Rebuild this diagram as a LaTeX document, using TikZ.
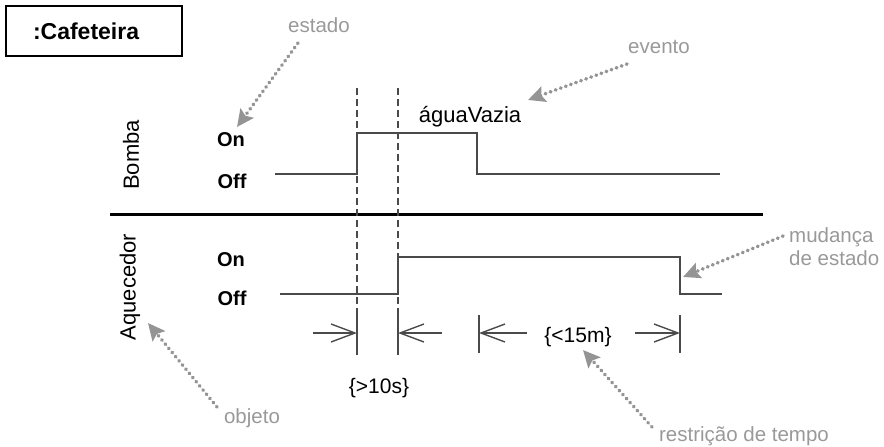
\documentclass[tikz,border=0pt]{standalone}
\usepackage{fontspec}
\setmainfont{Liberation Sans}
\usetikzlibrary{arrows.meta}
\definecolor{notegray}{HTML}{999999}
\definecolor{dotgray}{HTML}{949494}
\definecolor{sig}{HTML}{4A4A4A}
\tikzset{
  note/.style={text=notegray, inner sep=0pt, font=\fontsize{20.5}{23}\selectfont},
  noteline/.style={draw=dotgray, line width=3.6pt, line cap=round, dash pattern=on 0.6pt off 4.8pt,
     -{Stealth[length=17pt,width=16pt,inset=3pt,line cap=butt]}},
  lvl/.style={inner sep=0pt, font=\bfseries\fontsize{20}{23}\selectfont},
  lifeline/.style={inner sep=0pt, rotate=90, font=\fontsize{22}{25}\selectfont},
  signal/.style={draw=sig, line width=1.6pt},
  guide/.style={draw=sig, line width=1.4pt, dash pattern=on 7pt off 4pt},
  tick/.style={draw=sig, line width=1.4pt},
  dim/.style={draw=sig, line width=1.4pt, -{Straight Barb[length=24pt,width=18pt,line width=1.4pt]}},
  cons/.style={inner sep=0pt, font=\fontsize{21}{24}\selectfont}
}
\begin{document}
\begin{tikzpicture}[x=1pt,y=-1pt]
\useasboundingbox (0,0) rectangle (884,447);
% object box
\node[draw, line width=2.5pt, text width=122pt, align=left, inner xsep=27pt,
      minimum height=50pt, inner ysep=0pt,
      font=\bfseries\fontsize{23}{26}\selectfont] (obj) at (94,31) {:Cafeteira};
% lifeline labels
\node[lifeline] (bomba) at (131,155) {Bomba};
\node[lifeline] (aquec) at (130,287) {Aquecedor};
\node[lvl] (bon) at (231,140) {On};
\node[lvl] (boff) at (232,181) {Off};
\node[lvl] (aon) at (231,260) {On};
\node[lvl] (aoff) at (232,298) {Off};
% separator
\coordinate (sepL) at (110,214);
\coordinate (sepR) at (763,214);
\draw[line width=3pt] (sepL) -- (sepR);
% Bomba signal
\coordinate (b0) at (275,174);
\coordinate (b1) at (357,174);
\coordinate (b2) at (357,133);
\coordinate (b3) at (477,133);
\coordinate (b4) at (477,174);
\coordinate (b5) at (720,174);
\draw[signal] (b0) -- (b1) -- (b2) -- (b3) -- (b4) -- (b5);
% Aquecedor signal
\coordinate (a0) at (280,294);
\coordinate (a1) at (398,294);
\coordinate (a2) at (398,257);
\coordinate (a3) at (680,257);
\coordinate (a4) at (680,294);
\coordinate (a5) at (722,294);
\draw[signal] (a0) -- (a1) -- (a2) -- (a3) -- (a4) -- (a5);
% guides
\coordinate (g1t) at (357,88);
\coordinate (g1m) at (357,310);
\coordinate (g1b) at (357,355);
\coordinate (g2t) at (398,88);
\coordinate (g2m) at (398,310);
\coordinate (g2b) at (398,355);
\draw[guide] (g1t) -- (g1m);
\draw[guide] (g2t) -- (g2m);
\draw[tick] (g1m) -- (g1b);
\draw[tick] (g2m) -- (g2b);
\coordinate (t3t) at (479,315);
\coordinate (t3b) at (479,353);
\coordinate (t4t) at (680,315);
\coordinate (t4b) at (680,353);
\draw[tick] (t3t) -- (t3b);
\draw[tick] (t4t) -- (t4b);
% dimension arrows
\coordinate (d1s) at (313,333);
\coordinate (d1e) at (357,333);
\coordinate (d2s) at (442,333);
\coordinate (d2e) at (398,333);
\coordinate (d3s) at (527,333);
\coordinate (d3e) at (479,333);
\coordinate (d4s) at (635,333);
\coordinate (d4e) at (680,333);
\draw[dim] (d1s) -- (d1e);
\draw[dim] (d2s) -- (d2e);
\draw[dim] (d3s) -- (d3e);
\draw[dim] (d4s) -- (d4e);
\node[cons] (c10) at (379,388) {\{>10s\}};
\node[cons] (c15) at (578,337) {\{<15m\}};
% event
\node[anchor=base, inner sep=0pt, font=\fontsize{22}{26}\selectfont] (ev) at (470,122) {águaVazia};
% notes
\node[note] (nestado) at (319,25) {estado};
\node[note] (nevento) at (659,47) {evento};
\node[note, anchor=west, align=left, font=\fontsize{20.5}{23}\selectfont] (nmud) at (789,247) {mudança\\de estado};
\node[note] (nrest) at (744,436) {restrição de tempo};
\node[note] (nobj) at (252,418) {objeto};
\coordinate (pe1) at (298,43);  \coordinate (pe2) at (237,127);
\coordinate (pv1) at (627,64);  \coordinate (pv2) at (528,100);
\coordinate (pm1) at (783,236); \coordinate (pm2) at (683,277);
\coordinate (pr1) at (652,427); \coordinate (pr2) at (583,350);
\coordinate (po1) at (217,407); \coordinate (po2) at (148,323);
\draw[noteline] (pe1) -- (pe2);
\draw[noteline] (pv1) -- (pv2);
\draw[noteline] (pm1) -- (pm2);
\draw[noteline] (pr1) -- (pr2);
\draw[noteline] (po1) -- (po2);
\end{tikzpicture}
\end{document}
